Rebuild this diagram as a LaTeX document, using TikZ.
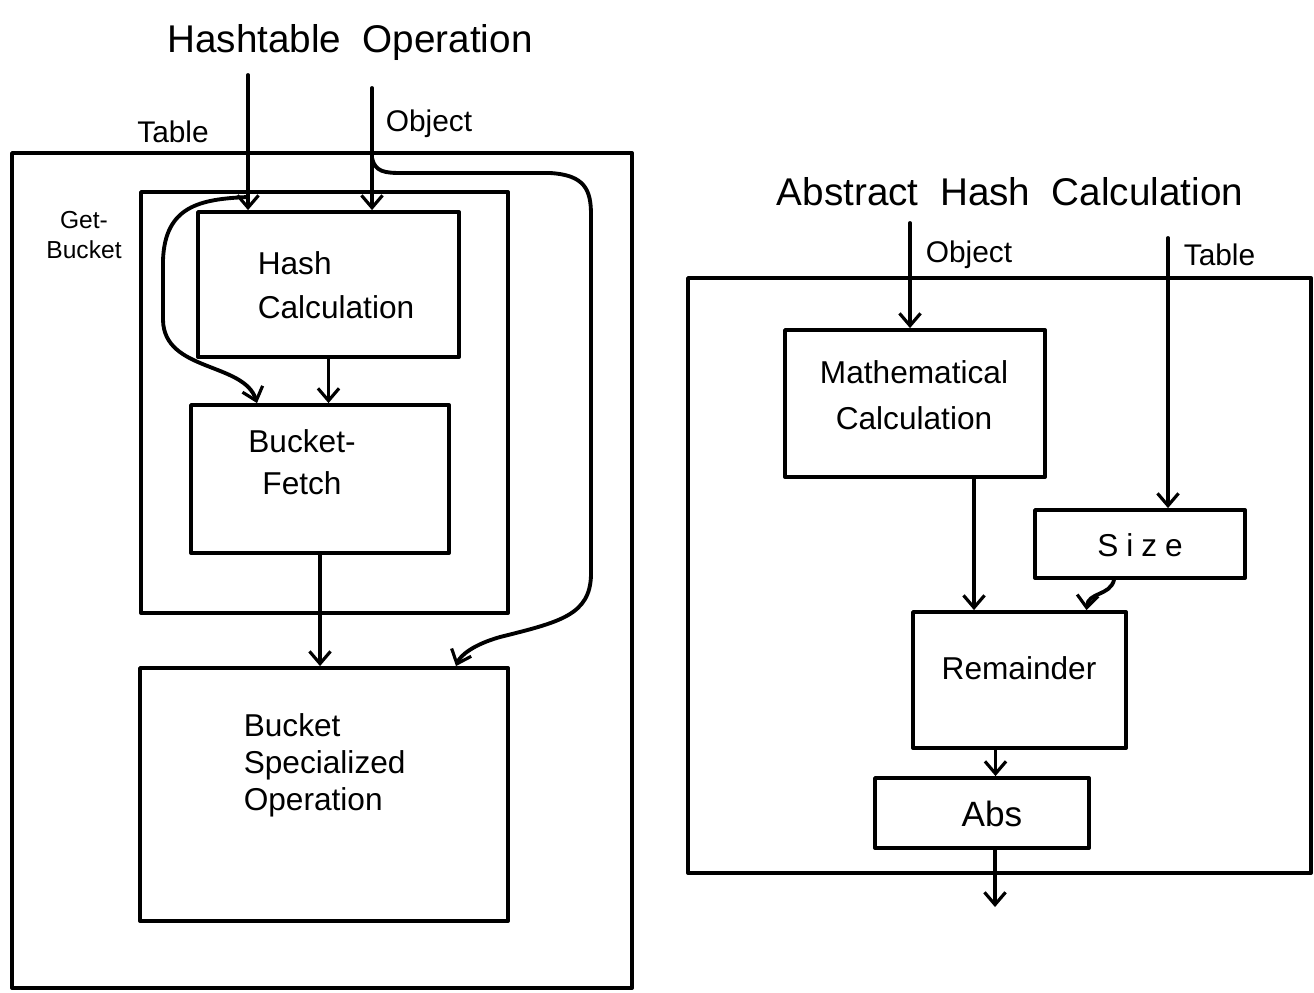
\documentclass[tikz,border=0pt]{standalone}
\usepackage{fontspec}
\setmainfont{Liberation Sans}
\usetikzlibrary{arrows.meta,fit,calc}
\begin{document}
\begin{tikzpicture}[x=0.02cm,y=-0.02cm,
  line width=2.2pt, line cap=round, line join=round,
  box/.style={draw, inner sep=0pt, line width=2.2pt},
  arr/.style={line width=2.2pt, -{Straight Barb[length=7pt,width=12pt,line width=1.8pt]}},
  ttl/.style={font=\fontsize{22}{26}\selectfont},
  lab/.style={font=\fontsize{17}{20}\selectfont},
  txt/.style={font=\fontsize{18}{24}\selectfont},
  small/.style={font=\fontsize{14}{17}\selectfont, align=center}]
\useasboundingbox (0,0) rectangle (1314,992);

% ---------------- left diagram ----------------
\node[ttl] (t1) at (350,42) {Hashtable\ \ Operation};
\node[box, fit={(12,153) (632,988)}] (outer) {};
\node[box, fit={(141,192) (508,613)}] (getb) {};
\node[box, fit={(198,212) (459,357)}] (hash) {};
\node[box, fit={(191,405) (449,553)}] (fetch) {};
\node[box, fit={(140,668) (508,921)}] (bso) {};

\node[small] (getlab) at (84,235) {Get-\\Bucket};
\node[lab] (tablab) at (173,132) {Table};
\node[lab, anchor=west] (objlab) at (378,124) {Object};

\node[txt, anchor=west] (hash1) at (250,263) {Hash};
\node[txt, anchor=west] (hash2) at (250,307) {Calculation};
\node[txt, align=center] (fetchtxt) at (302,462) {Bucket-\\Fetch};
\node[txt, align=left, anchor=north west,
      font=\fontsize{18}{21}\selectfont] (bsotxt) at (236,706) {Bucket\\Specialized\\Operation};

\coordinate (tabin) at (248,75);
\coordinate (objin) at (372,88);
\coordinate (tabsplit) at (248,197);
\coordinate (objsplit) at (372,158);

\draw[arr] (tabin) -- (tabin |- hash.north);
\draw[arr] (objin) -- (objin |- hash.north);
\draw[arr] (tabsplit) .. controls (200,199) and (165,206) .. (163,260)
  -- (163,320) .. controls (164,372) and (244,362) .. ($(fetch.north)+(-63,0)$);
\draw[arr] (hash.south) -- (hash.south |- fetch.north);
\draw[arr] (fetch.south) -- (fetch.south |- bso.north);
\draw[arr] (objsplit) .. controls (375,172) and (385,173) .. (402,173)
  -- (550,173) .. controls (585,175) and (591,190) .. (591,215)
  -- (591,575) .. controls (590,615) and (560,622) .. (500,637)
  .. controls (472,645) and (460,656) .. ($(bso.north)+(132,0)$);

% ---------------- right diagram ----------------
\node[ttl] (t2) at (1010,192) {Abstract\ \ Hash\ \ Calculation};
\node[box, fit={(688,278) (1311,873)}] (router) {};
\node[box, fit={(785,330) (1045,477)}] (math) {};
\node[box, fit={(1035,510) (1245,578)}] (size) {};
\node[box, fit={(913,612) (1126,748)}] (rem) {};
\node[box, fit={(875,778) (1089,848)}] (abs) {};

\node[lab, anchor=west] (objlab2) at (918,255) {Object};
\node[lab, anchor=west] (tablab2) at (1176,255) {Table};
\node[txt, align=center, font=\fontsize{18}{26}\selectfont] (mathtxt) at (914,395) {Mathematical\\Calculation};
\node[txt, font=\addfontfeature{LetterSpace=25}\fontsize{18}{22}\selectfont] (sizetxt) at (1140,545) {Size};
\node[txt] (remtxt) at (1019,668) {Remainder};
\node[txt, font=\fontsize{20}{24}\selectfont] (abstxt) at (992,814) {Abs};

\coordinate (objin2) at (910,223);
\coordinate (tabin2) at (1168,238);
\coordinate (outp) at (995,907);

\draw[arr] (objin2) -- (objin2 |- math.north);
\draw[arr] (tabin2) -- (tabin2 |- size.north);
\draw[arr] ($(math.south)+(59,0)$) -- ($(math.south |- rem.north)+(59,0)$);
\draw[arr] ($(size.south)+(-26,0)$) .. controls (1110,596) and (1088,592) .. ($(rem.north)+(67,0)$);
\draw[arr] ($(rem.south)+(-24,0)$) -- ($(rem.south |- abs.north)+(-24,0)$);
\draw[arr] ($(abs.south)+(13,0)$) -- (outp);
\end{tikzpicture}
\end{document}
